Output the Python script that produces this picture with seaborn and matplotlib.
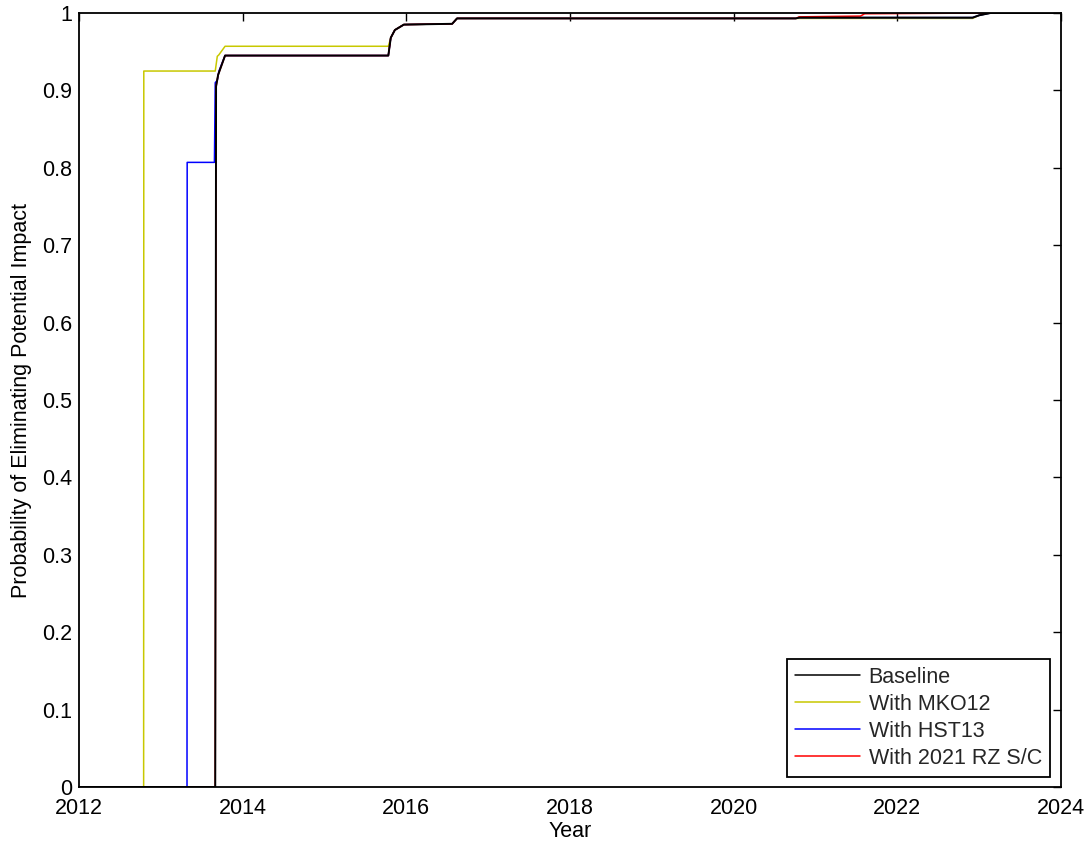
import matplotlib
matplotlib.use("Agg")
import matplotlib.pyplot as plt
from matplotlib.colors import to_rgb
import seaborn as sns
import pandas as pd

# ---- data ----
base_year = [2012.0, 2013.665, 2013.675, 2013.70, 2013.785, 2015.78, 2015.81, 2015.86, 2015.97,
             2016.56, 2016.62, 2020.76, 2020.80, 2022.92, 2023.0, 2023.14, 2024.0]
base_p    = [0.0, 0.0, 0.905, 0.920, 0.945, 0.945, 0.968, 0.978, 0.985,
             0.986, 0.993, 0.993, 0.994, 0.994, 0.997, 1.0, 1.0]

mko_year = [2012.0, 2012.79, 2012.792, 2013.665, 2013.69, 2013.71, 2013.785, 2015.78, 2015.81,
            2015.86, 2015.97, 2016.56, 2016.62, 2022.92, 2023.0, 2023.14, 2024.0]
mko_p    = [0.0, 0.0, 0.925, 0.925, 0.944, 0.946, 0.957, 0.957, 0.968,
            0.978, 0.985, 0.986, 0.993, 0.993, 0.997, 1.0, 1.0]

hst_year = [2012.0, 2013.32, 2013.322, 2013.655, 2013.665, 2013.69, 2013.71, 2013.785, 2015.78,
            2015.81, 2015.86, 2015.97, 2016.56, 2016.62, 2020.76, 2020.80, 2022.92, 2023.0,
            2023.14, 2024.0]
hst_p    = [0.0, 0.0, 0.807, 0.807, 0.910, 0.913, 0.925, 0.945, 0.945,
            0.968, 0.978, 0.985, 0.986, 0.993, 0.993, 0.994, 0.994, 0.997,
            1.0, 1.0]

rz_year = [2012.0, 2013.665, 2013.675, 2013.70, 2013.785, 2015.78, 2015.81, 2015.86, 2015.97,
           2016.56, 2016.62, 2020.76, 2020.80, 2021.55, 2021.60, 2023.14, 2024.0]
rz_p    = [0.0, 0.0, 0.905, 0.920, 0.945, 0.945, 0.968, 0.978, 0.985,
           0.986, 0.993, 0.993, 0.995, 0.996, 0.999, 1.0, 1.0]

series_names = ["Baseline", "With MKO12", "With HST13", "With 2021 RZ S/C"]
series_colors = ["#000000", "#c8c800", "#0000ff", "#ff0000"]
x_ticks = [2012, 2014, 2016, 2018, 2020, 2022, 2024]
y_ticks = [0, 0.1, 0.2, 0.3, 0.4, 0.5, 0.6, 0.7, 0.8, 0.9, 1.0]
y_tick_labels = ["0", "0.1", "0.2", "0.3", "0.4", "0.5", "0.6", "0.7", "0.8", "0.9", "1"]

frames = []
for name, yrs, ps in zip(series_names,
                         [base_year, mko_year, hst_year, rz_year],
                         [base_p, mko_p, hst_p, rz_p]):
    frames.append(pd.DataFrame({"Year": yrs, "P": ps, "Scenario": name}))
df = pd.concat(frames, ignore_index=True)

sns.set_theme(style="white")
plt.rcParams["font.family"] = ["Liberation Sans", "DejaVu Sans"]

fig = plt.figure(figsize=(10.91, 8.43), dpi=100)
ax = fig.add_axes([0.0724, 0.0664, 0.9001, 0.9182])

sns.lineplot(data=df, x="Year", y="P", hue="Scenario", hue_order=series_names,
             palette=dict(zip(series_names, series_colors)),
             estimator=None, sort=False, linewidth=1.1, ax=ax)

# baseline drawn on top, as in the reference
for ln in ax.get_lines():
    if to_rgb(ln.get_color()) == (0.0, 0.0, 0.0):
        ln.set_zorder(5)
        ln.set_linewidth(1.4)

ax.set_xlim(2012, 2024)
ax.set_ylim(0, 1)
ax.set_xticks(x_ticks)
ax.set_xticklabels([str(t) for t in x_ticks])
ax.set_yticks(y_ticks)
ax.set_yticklabels(y_tick_labels)
ax.tick_params(direction="in", length=6, width=1, top=True, right=True,
               labelsize=15.5, colors="black")
ax.tick_params(axis="x", pad=8)
ax.tick_params(axis="y", pad=5)
for s in ax.spines.values():
    s.set_color("black")
    s.set_linewidth(1.3)
ax.set_xlabel("Year", fontsize=15.5, labelpad=1, color="black")
ax.set_ylabel("Probability of Eliminating Potential Impact", fontsize=15.5, labelpad=7, color="black")

leg = ax.legend(loc="lower right", bbox_to_anchor=(0.9888, 0.0129), borderaxespad=0,
                fontsize=15.5, frameon=True, fancybox=False,
                edgecolor="black", framealpha=1, handlelength=3.0,
                labelspacing=0.28, borderpad=0.38, handletextpad=0.4)
leg.get_frame().set_linewidth(1.3)
for h in leg.get_lines():
    h.set_linewidth(1.1)

fig.savefig("out.png", dpi=100)
